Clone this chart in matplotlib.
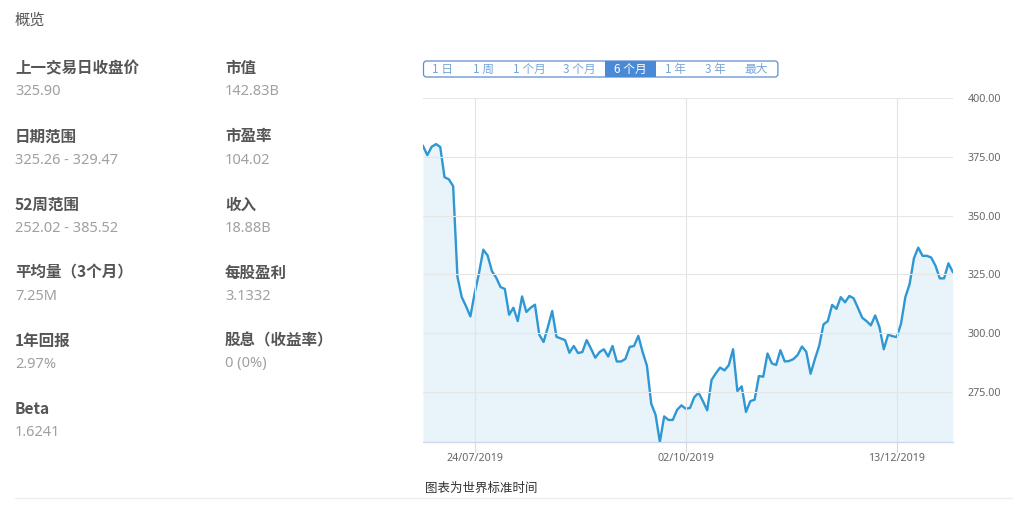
import numpy as np
import matplotlib
matplotlib.use("Agg")
import matplotlib.pyplot as plt
from matplotlib.patches import FancyBboxPatch
from matplotlib.lines import Line2D
from matplotlib.transforms import IdentityTransform

plt.rcParams["font.family"] = ["Noto Sans", "Noto Sans CJK SC", "DejaVu Sans"]
CJK = ["Noto Sans CJK SC", "DejaVu Sans"]

W, H = 1029, 505

# daily closes, six months
prices = [
    379.7, 375.8, 379.3, 380.5, 379.3, 366.4, 365.5, 362.6, 324.0, 315.3,
    311.4, 307.1, 317.0, 325.5, 335.5, 333.1, 326.4, 323.6, 319.6, 318.8,
    307.8, 310.8, 305.1, 315.6, 309.0, 310.8, 312.1, 299.3, 296.2, 302.6,
    309.4, 298.4, 297.7, 297.0, 291.6, 294.5, 291.5, 291.9, 297.0, 293.4,
    289.5, 291.9, 293.1, 290.0, 294.5, 287.9, 287.9, 289.0, 294.1, 294.5,
    298.8, 291.9, 286.1, 269.9, 265.2, 253.6, 264.5, 263.0, 263.0, 267.3,
    269.2, 267.8, 268.1, 272.7, 274.6, 271.0, 267.1, 280.0, 282.9, 285.3,
    284.1, 286.3, 293.1, 275.3, 277.3, 266.4, 271.0, 271.6, 281.7, 281.4,
    291.3, 287.1, 286.4, 292.7, 287.9, 288.1, 288.9, 290.7, 294.3, 292.0,
    282.7, 288.9, 294.6, 303.7, 305.1, 312.0, 310.3, 315.3, 313.1, 315.8,
    314.8, 310.7, 306.5, 305.1, 303.3, 307.5, 302.5, 293.1, 299.3, 298.7,
    298.3, 304.0, 315.3, 320.9, 331.9, 336.4, 332.9, 332.9, 332.2, 328.7,
    323.3, 323.3, 329.7, 326.1,
]
date_ticks = [12, 61, 110]
date_labels = ["24/07/2019", "02/10/2019", "13/12/2019"]
price_ticks = [275, 300, 325, 350, 375, 400]

left_names = ["上一交易日收盘价", "日期范围", "52周范围", "平均量（3个月）", "1年回报", "Beta"]
left_values = ["325.90", "325.26 - 329.47", "252.02 - 385.52", "7.25M", "2.97%", "1.6241"]
right_names = ["市值", "市盈率", "收入", "每股盈利", "股息（收益率）"]
right_values = ["142.83B", "104.02", "18.88B", "3.1332", "0 (0%)"]

ranges = ["1 日", "1 周", "1 个月", "3 个月", "6 个月", "1 年", "3 年", "最大"]
selected = 4


def fx(x):
    return x / W


def fy(y):
    return 1 - y / H


fig = plt.figure(figsize=(W / 100, H / 100), dpi=100)
fig.patch.set_facecolor("white")

# price chart
ax = fig.add_axes([fx(423), fy(442), (952.7 - 423) / W, (442 - 98.3) / H])
x = np.arange(len(prices))
low = min(prices)
ax.fill_between(x, prices, low, color="#e8f3fa", lw=0)
ax.plot(x, prices, color="#2f97d3", lw=1.7, solid_joinstyle="round")
ax.set_xlim(0, len(prices) - 1)
ax.set_ylim(low, 400)

ax.set_yticks(price_ticks)
ax.set_yticklabels([f"{v:.2f}" for v in price_ticks])
ax.yaxis.tick_right()
ax.tick_params(axis="y", length=0, pad=11, labelsize=7.7, labelcolor="#666666")
ax.set_xticks(date_ticks)
ax.set_xticklabels(date_labels)
ax.tick_params(axis="x", length=7, width=0.8, color="#d5dbe3", pad=1,
               labelsize=7.7, labelcolor="#666666")
ax.grid(axis="y", color="#e6e6e6", lw=0.8)
ax.grid(axis="x", color="#e3e3e3", lw=0.8)
ax.set_axisbelow(False)
for name, sp in ax.spines.items():
    sp.set_visible(name == "bottom")
ax.spines["bottom"].set_color("#ccd6eb")
ax.spines["bottom"].set_linewidth(0.9)
ax.set_facecolor("none")

# overview block on the left
fig.text(fx(15), fy(20.5), "概览", fontsize=11, color="#555555", va="center", family=CJK)
for col_x, names, vals in [(15, left_names, left_values), (225, right_names, right_values)]:
    for k, (name, val) in enumerate(zip(names, vals)):
        fig.text(fx(col_x), fy(68.5 + 68 * k), name, fontsize=11.2, fontweight="bold",
                 color="#555555", va="center", family=CJK)
        fig.text(fx(col_x), fy(92 + 68 * k), val, fontsize=10.5, color="#a0a0a0",
                 va="center")

# range selector
widths = [38.7, 43, 48.5, 51.5, 50.7, 39.3, 40, 42.7]
bar_x, bar_top, bar_h = 423.5, 61, 16
ident = IdentityTransform()
fig.add_artist(FancyBboxPatch((bar_x, H - bar_top - bar_h), sum(widths), bar_h,
                              boxstyle="round,pad=0,rounding_size=3",
                              fc="white", ec="#5b8fd0", lw=0.9, transform=ident))
left = bar_x
for k, (lab, w) in enumerate(zip(ranges, widths)):
    if k == selected:
        fig.add_artist(FancyBboxPatch((left, H - bar_top - bar_h), w, bar_h,
                                      boxstyle="square,pad=0", fc="#4a89d6",
                                      ec="none", transform=ident))
    fig.text(fx(left + w / 2), fy(bar_top + bar_h / 2), lab, fontsize=8.5,
             ha="center", va="center", family=CJK,
             color="white" if k == selected else "#7aa5d8")
    left += w

fig.text(fx(425), fy(488), "图表为世界标准时间", fontsize=9, color="#333333",
         va="center", family=CJK)
fig.add_artist(Line2D([fx(15), fx(1012)], [fy(497.5)] * 2, color="#ececec", lw=0.9))

fig.savefig("out.png", dpi=100)
